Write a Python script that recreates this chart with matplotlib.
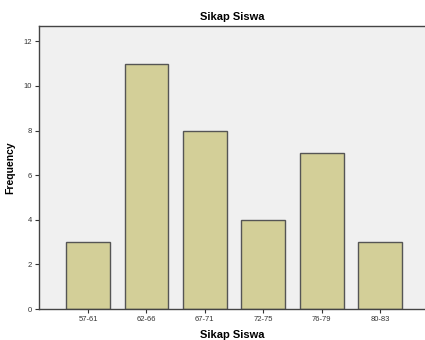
import matplotlib
matplotlib.use("Agg")
import matplotlib.pyplot as plt

categories = ["57-61", "62-66", "67-71", "72-75", "76-79", "80-83"]
frequency = [3, 11, 8, 4, 7, 3]
yticks = [0, 2, 4, 6, 8, 10, 12]

plt.rcParams['font.family'] = ['Liberation Sans', 'DejaVu Sans']

fig = plt.figure(figsize=(4.25, 3.4), dpi=100)
ax = fig.add_axes([39/425, 31/340, 1 - 39/425, (309-26)/340])
ax.set_facecolor("#f0f0f0")

x = list(range(len(categories)))
ax.bar(x, frequency, width=0.75, color="#d3cf98", edgecolor="#555555", linewidth=1.0, zorder=2)

ax.set_xlim(-0.84, 5.77)
ax.set_ylim(0, 12.69)
ax.set_xticks(x)
ax.set_xticklabels(categories, fontsize=5.5, color="#333333")
ax.set_yticks(yticks)
ax.set_yticklabels([str(v) for v in yticks], fontsize=5.5, color="#333333")
ax.tick_params(axis="both", direction="out", length=3, width=0.8, color="#333333", pad=2)

for s in ["left", "top", "bottom"]:
    ax.spines[s].set_color("#444444")
    ax.spines[s].set_linewidth(1.0)
ax.spines["right"].set_visible(False)

ax.set_title("Sikap Siswa", fontsize=8, fontweight="bold", pad=4)
ax.set_xlabel("Sikap Siswa", fontsize=8, fontweight="bold", labelpad=5)
ax.set_ylabel("Frequency", fontsize=7.5, fontweight="bold", labelpad=6)

fig.savefig("out.png", dpi=100, facecolor="white")
